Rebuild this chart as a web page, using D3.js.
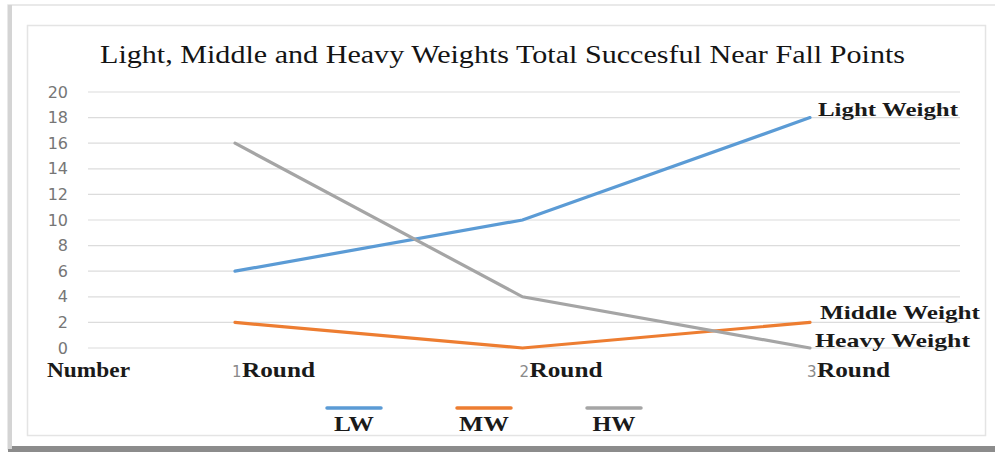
<!DOCTYPE html>
<html><head><meta charset="utf-8">
<script src="https://cdn.jsdelivr.net/npm/d3@7"></script>
<style>html,body{margin:0;padding:0;background:#fff;}svg{display:block;}</style>
</head><body>
<svg id="c" width="995" height="456"></svg>
<script>
const categories = ["1Round", "2Round", "3Round"];
const catNums = ["1", "2", "3"];
const lwValues = [6, 10, 18];
const mwValues = [2, 0, 2];
const hwValues = [16, 4, 0];
const seriesNames = ["LW", "MW", "HW"];
const endLabels = ["Light Weight", "Middle Weight", "Heavy Weight"];
const yTicks = [0, 2, 4, 6, 8, 10, 12, 14, 16, 18, 20];
const title = "Light, Middle and Heavy Weights Total Succesful Near Fall Points";
const axisName = "Number";

const colors = ["#5b9bd5", "#ed7d31", "#a5a5a5"];
const serif = "'Liberation Serif', 'Times New Roman', serif";
const svg = d3.select("#c");

// outer frame with shadow
svg.append("rect").attr("x", 8).attr("y", 5).attr("width", 990).attr("height", 444)
  .attr("fill", "#fff").attr("stroke", "#e2e2e2").attr("stroke-width", 1.5);
svg.append("rect").attr("x", 8).attr("y", 446).attr("width", 990).attr("height", 6).attr("fill", "#8c8c8c");
svg.append("rect").attr("x", 8).attr("y", 5).attr("width", 4).attr("height", 444).attr("fill", "#d4d4d4");
// inner chart border
svg.append("rect").attr("x", 27.5).attr("y", 25.5).attr("width", 958).attr("height", 410)
  .attr("fill", "none").attr("stroke", "#e4e4e4").attr("stroke-width", 1.5);

const x = d3.scalePoint().domain(categories).range([235, 810]);
const y = d3.scaleLinear().domain([0, 20]).range([348, 92]);

// gridlines
svg.append("g").selectAll("line").data(yTicks).join("line")
  .attr("x1", 88).attr("x2", 960)
  .attr("y1", d => y(d)).attr("y2", d => y(d))
  .attr("stroke", "#dcdcdc").attr("stroke-width", 1.2);

// y axis labels
const yAxis = d3.axisLeft(y).tickValues(yTicks).tickSize(0).tickPadding(0);
const ya = svg.append("g").attr("transform", "translate(68,0)").call(yAxis);
ya.select(".domain").remove();
ya.selectAll("text").attr("font-family", "'DejaVu Sans', sans-serif").attr("font-size", 16)
  .attr("fill", "#767676");

// title
svg.append("text").attr("x", 100).attr("y", 63).attr("font-family", serif).attr("font-size", 26)
  .attr("fill", "#141414").attr("textLength", 805).attr("lengthAdjust", "spacingAndGlyphs").text(title);

// x axis name
svg.append("text").attr("x", 47).attr("y", 377).attr("font-family", serif).attr("font-size", 20)
  .attr("font-weight", "bold").attr("fill", "#1a1a1a").attr("textLength", 83)
  .attr("lengthAdjust", "spacingAndGlyphs").text(axisName);

// category labels
const cg = svg.append("g").selectAll("g").data(categories).join("g")
  .attr("transform", d => `translate(${x(d) - 3},377)`);
cg.append("text").attr("font-family", "'DejaVu Sans', sans-serif").attr("font-size", 15)
  .attr("fill", "#8a8a8a").text((d, i) => catNums[i]);
cg.append("text").attr("x", 10).attr("font-family", serif).attr("font-size", 20)
  .attr("font-weight", "bold").attr("fill", "#1a1a1a").attr("textLength", 73)
  .attr("lengthAdjust", "spacingAndGlyphs").text(d => d.slice(1));

// lines
const series = [lwValues, mwValues, hwValues];
const line = d3.line().x((d, i) => x(categories[i])).y(d => y(d));
svg.append("g").selectAll("path").data(series).join("path")
  .attr("d", d => line(d)).attr("fill", "none")
  .attr("stroke", (d, i) => colors[i]).attr("stroke-width", 3.2).attr("stroke-linecap", "round");

// end labels
const endPos = [
  { x: 818, y: 116, w: 140 },
  { x: 820, y: 319, w: 160 },
  { x: 815, y: 347, w: 155 }
];
svg.append("g").selectAll("text").data(endLabels).join("text")
  .attr("x", (d, i) => endPos[i].x).attr("y", (d, i) => endPos[i].y)
  .attr("font-family", serif).attr("font-size", 19).attr("font-weight", "bold").attr("fill", "#1a1a1a")
  .attr("textLength", (d, i) => endPos[i].w).attr("lengthAdjust", "spacingAndGlyphs").text(d => d);

// legend
const legX = [325, 455, 585];
const legW = [40, 50, 43];
const lg = svg.append("g").selectAll("g").data(seriesNames).join("g")
  .attr("transform", (d, i) => `translate(${legX[i]},0)`);
lg.append("line").attr("x1", 2).attr("x2", 56).attr("y1", 408).attr("y2", 408)
  .attr("stroke", (d, i) => colors[i]).attr("stroke-width", 3.5).attr("stroke-linecap", "round");
lg.append("text").attr("x", 29).attr("y", 431).attr("text-anchor", "middle")
  .attr("font-family", serif).attr("font-size", 20).attr("font-weight", "bold").attr("fill", "#1a1a1a")
  .attr("textLength", (d, i) => legW[i]).attr("lengthAdjust", "spacingAndGlyphs")
  .text(d => d);
</script>
</body></html>
